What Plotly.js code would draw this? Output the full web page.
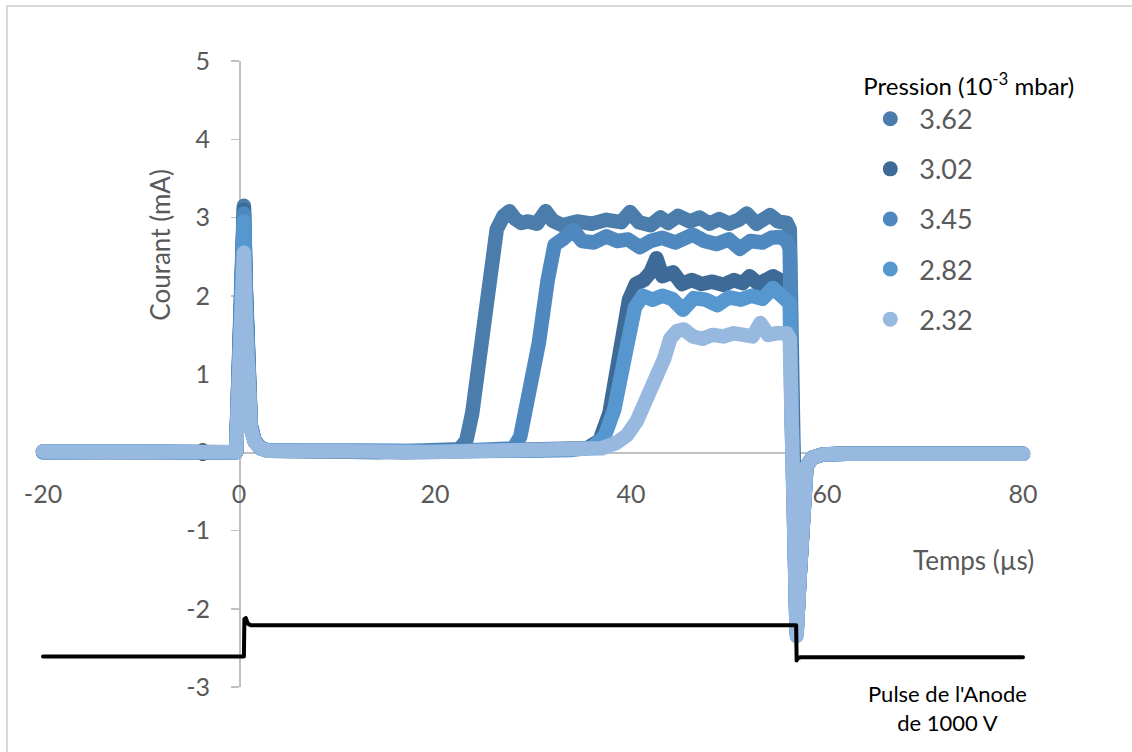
<!DOCTYPE html>
<html>
<head>
<meta charset="utf-8">
<script src="https://cdn.plot.ly/plotly-3.0.1.min.js"></script>
<style>
  html, body { margin: 0; padding: 0; background: #fff; }
  #chart { width: 1132px; height: 752px; }
  .js-line { stroke-linejoin: round; stroke-linecap: round; }
  .cartesianlayer g, .cartesianlayer path { clip-path: none !important; }
</style>
</head>
<body>
<div id="chart"></div>
<script>
// ---- Data (time in µs, current in mA) ----
const seriesNames = ['3.62', '3.02', '3.45', '2.82', '2.32'];
const seriesColors = ['#4A7DAC', '#3D6A96', '#4E88BF', '#5797CF', '#97B8DF'];

const T362 = [-20, -14, -8, -3, -0.3, 0.1, 0.3, 0.5, 0.7, 0.9,
  1.2, 1.6, 2.2, 3, 6, 10, 14, 18, 21, 22.5,
  23.2, 23.8, 24.7, 25.6, 26.3, 27.0, 27.6, 28.2, 28.8, 29.5,
  30.4, 31.3, 32.0, 33.0, 34.5, 36.0, 37.5, 39.0, 39.9, 40.8,
  42.0, 43.0, 43.8, 44.8, 46.0, 47.0, 48.0, 49.0, 50.0, 51.0,
  51.8, 52.8, 53.5, 54.2, 55.0, 55.9, 56.2, 56.4, 56.6, 56.9,
  57.2, 57.5, 57.9, 58.5, 59.5, 61, 65, 70, 75, 80];
const I362 = [0.01, 0.02, 0.0, 0.01, 0.0, 1.6, 3.1, 3.15, 2.1, 0.85,
  0.35, 0.15, 0.06, 0.02, 0.0, 0.01, 0.0, 0.02, 0.02, 0.04,
  0.15, 0.5, 1.35, 2.3, 2.85, 3.02, 3.08, 2.98, 2.93, 2.95,
  2.92, 3.08, 2.96, 2.9, 2.95, 2.92, 2.97, 2.94, 3.07, 2.94,
  2.9, 3.0, 2.93, 3.02, 2.95, 3.0, 2.92, 2.98, 2.92, 2.97,
  3.05, 2.92, 2.96, 3.03, 2.95, 2.93, 2.85, 0.5, -1.8, -2.3,
  -1.6, -0.6, -0.18, -0.07, -0.03, -0.02, -0.02, -0.01, -0.02, -0.02];

const T302 = [-20, -13, -7, -2, -0.3, 0.1, 0.3, 0.5, 0.7, 0.9,
  1.2, 1.6, 2.2, 3, 7, 12, 17, 22, 27, 31,
  34, 35.5, 36.8, 37.8, 38.9, 39.8, 40.5, 41.3, 42.0, 42.6,
  43.2, 44.3, 45.2, 46.2, 47.2, 48.3, 49.4, 50.5, 51.4, 52.1,
  53.0, 53.8, 54.5, 55.2, 55.9, 56.2, 56.4, 56.6, 56.9, 57.2,
  57.5, 57.9, 58.5, 59.5, 62, 66, 71, 76, 80];
const I302 = [0.0, 0.01, 0.02, 0.0, 0.0, 1.5, 3.05, 3.1, 2.05, 0.8,
  0.33, 0.14, 0.05, 0.02, 0.0, 0.01, 0.0, 0.02, 0.01, 0.02,
  0.03, 0.05, 0.15, 0.5, 1.3, 1.95, 2.15, 2.2, 2.3, 2.48,
  2.25, 2.3, 2.15, 2.2, 2.15, 2.18, 2.14, 2.2, 2.16, 2.25,
  2.15, 2.22, 2.25, 2.2, 2.18, 2.1, 0.4, -1.8, -2.3, -1.6,
  -0.6, -0.18, -0.07, -0.03, -0.02, -0.01, -0.02, -0.02, -0.02];

const T345 = [-20, -15, -9, -4, -0.3, 0.1, 0.3, 0.5, 0.7, 0.9,
  1.2, 1.6, 2.2, 3, 6, 11, 16, 21, 25, 27,
  28.0, 28.7, 29.3, 30.6, 31.5, 32.2, 33.0, 34.1, 35.0, 36.2,
  37.5, 38.6, 39.7, 40.9, 42.0, 43.2, 44.5, 46.3, 47.5, 48.7,
  50.0, 51.1, 52.2, 53.4, 54.3, 55.2, 55.9, 56.2, 56.4, 56.6,
  56.9, 57.2, 57.5, 57.9, 58.5, 59.5, 62, 67, 73, 80];
const I345 = [0.01, 0.0, 0.02, 0.0, 0.0, 1.5, 3.0, 3.05, 2.0, 0.8,
  0.33, 0.14, 0.05, 0.02, 0.01, 0.0, 0.02, 0.01, 0.02, 0.03,
  0.05, 0.2, 0.55, 1.4, 2.2, 2.65, 2.72, 2.84, 2.7, 2.68,
  2.76, 2.7, 2.72, 2.62, 2.7, 2.74, 2.68, 2.78, 2.7, 2.66,
  2.72, 2.6, 2.7, 2.68, 2.74, 2.75, 2.7, 2.6, 0.5, -1.8,
  -2.3, -1.6, -0.6, -0.18, -0.07, -0.03, -0.02, -0.01, -0.02, -0.02];

const T282 = [-20, -14, -8, -3, -0.3, 0.1, 0.3, 0.5, 0.7, 0.9,
  1.2, 1.6, 2.2, 3, 7, 12, 18, 24, 30, 34,
  36.0, 37.3, 38.3, 39.5, 40.4, 41.2, 42.2, 43.2, 44.2, 45.3,
  46.4, 47.6, 48.8, 50.0, 51.2, 52.3, 53.4, 54.5, 55.3, 55.9,
  56.2, 56.4, 56.6, 56.9, 57.2, 57.5, 57.9, 58.5, 59.5, 62,
  67, 73, 80];
const I282 = [0.0, 0.02, 0.01, 0.0, 0.0, 1.45, 2.9, 2.95, 1.95, 0.78,
  0.32, 0.14, 0.05, 0.02, 0.0, 0.02, 0.01, 0.0, 0.02, 0.03,
  0.06, 0.2, 0.55, 1.3, 1.85, 2.0, 1.95, 2.0, 1.96, 1.82,
  1.97, 1.95, 1.88, 1.98, 1.95, 2.0, 1.96, 2.1, 1.98, 1.95,
  1.9, 0.4, -1.8, -2.3, -1.6, -0.6, -0.18, -0.07, -0.03, -0.02,
  -0.01, -0.02, -0.02];

const T232 = [-20, -13, -7, -2, -0.3, 0.1, 0.3, 0.5, 0.7, 0.9,
  1.2, 1.6, 2.2, 3, 7, 13, 19, 25, 31, 35,
  37.0, 38.5, 39.6, 40.6, 41.5, 42.3, 42.8, 43.4, 44.0, 44.7,
  45.4, 46.3, 47.3, 48.3, 49.4, 50.5, 51.5, 52.4, 53.2, 54.0,
  54.8, 55.5, 55.9, 56.2, 56.4, 56.6, 56.9, 57.2, 57.5, 57.9,
  58.5, 59.5, 62, 67, 73, 80];
const I232 = [0.01, 0.0, 0.02, 0.0, 0.0, 1.3, 2.5, 2.55, 1.7, 0.7,
  0.3, 0.13, 0.05, 0.02, 0.0, 0.01, 0.0, 0.02, 0.01, 0.02,
  0.05, 0.12, 0.22, 0.4, 0.65, 0.85, 0.95, 1.2, 1.45, 1.55,
  1.57, 1.48, 1.45, 1.5, 1.48, 1.52, 1.5, 1.48, 1.65, 1.5,
  1.52, 1.55, 1.52, 1.45, 0.4, -1.8, -2.35, -1.6, -0.6, -0.18,
  -0.07, -0.03, -0.02, -0.01, -0.02, -0.02];

// Anode pulse (drawn on the same mA scale, as in the reference)
const TPulse = [-20, 0.5, 0.55, 0.7, 0.9, 1.2, 56.85, 56.9, 57.05, 57.3, 80];
const VPulse = [-2.61, -2.61, -2.13, -2.12, -2.19, -2.21, -2.21, -2.66, -2.63, -2.62, -2.62];

const xTickVals = [-20, 0, 20, 40, 60, 80];
const xTickText = ['-20', '0', '20', '40', '60', '80'];
const yTickVals = [-3, -2, -1, 0, 1, 2, 3, 4, 5];
const yTickText = ['-3', '-2', '-1', '0', '1', '2', '3', '4', '5'];

const seriesT = [T362, T302, T345, T282, T232];
const seriesI = [I362, I302, I345, I282, I232];

// ---- Traces ----
const FONT = 'Lato, "Open Sans", "Noto Sans", sans-serif';
const traces = [];
seriesNames.forEach((name, k) => {
  traces.push({
    type: 'scatter', mode: 'lines', name: name,
    x: seriesT[k], y: seriesI[k],
    line: { color: seriesColors[k], width: 14.5 },
    cliponaxis: false,
    showlegend: false, hoverinfo: 'x+y+name'
  });
});
traces.push({
  type: 'scatter', mode: 'lines', name: "Pulse de l'Anode",
  x: TPulse, y: VPulse,
  line: { color: '#000000', width: 4 },
  cliponaxis: false,
  showlegend: false
});
// legend entries (circle symbols, like the reference legend)
seriesNames.forEach((name, k) => {
  traces.push({
    type: 'scatter', mode: 'markers', name: name,
    x: [null], y: [null],
    marker: { color: seriesColors[k], size: 15 },
    legendgroup: 'g' + k, showlegend: true
  });
});

const layout = {
  width: 1132, height: 752,
  margin: { l: 43, r: 109, t: 61, b: 65, pad: 0 },
  paper_bgcolor: '#ffffff', plot_bgcolor: 'rgba(0,0,0,0)',
  font: { family: FONT, color: '#595959', size: 25 },
  showlegend: true,
  xaxis: {
    range: [-20, 80], domain: [0, 1],
    tickvals: xTickVals, ticktext: xTickText, ticks: '',
    anchor: 'free', position: 0.375,
    showline: true, linecolor: '#C0C0C0', linewidth: 1.5,
    showgrid: false, zeroline: false,
    tickfont: { family: FONT, size: 25, color: '#595959' },
    ticklabelstandoff: 19,
    layer: 'below traces'
  },
  yaxis: {
    range: [-3, 5], domain: [0, 1],
    tickvals: yTickVals, ticktext: yTickText,
    ticks: 'outside', ticklen: 8, tickcolor: '#C0C0C0', tickwidth: 1.5,
    anchor: 'free', position: 0.2,
    showline: true, linecolor: '#C0C0C0', linewidth: 1.5,
    showgrid: false, zeroline: false,
    tickfont: { family: FONT, size: 25, color: '#595959' },
    ticklabelstandoff: 16,
    layer: 'below traces'
  },
  legend: {
    x: 0.835, xanchor: 'left', y: 0.996, yanchor: 'top',
    bgcolor: 'rgba(0,0,0,0)',
    font: { family: FONT, size: 27, color: '#595959' },
    title: { text: 'Pression (10<sup>-3</sup> mbar)', side: 'top',
             font: { family: FONT, size: 24, color: '#000000' } },
    itemwidth: 48,
    tracegroupgap: 12
  },
  annotations: [
    { text: 'Courant (mA)', xref: 'paper', yref: 'paper', x: 0.119, y: 0.706,
      xanchor: 'center', yanchor: 'middle', textangle: -90, showarrow: false,
      font: { family: FONT, size: 26, color: '#595959' } },
    { text: 'Temps (µs)', xref: 'paper', yref: 'paper', x: 0.949, y: 0.203,
      xanchor: 'center', yanchor: 'middle', showarrow: false,
      font: { family: FONT, size: 26, color: '#595959' } },
    { text: "Pulse de l'Anode<br>de 1000 V", xref: 'paper', yref: 'paper', x: 0.923, y: -0.034,
      xanchor: 'center', yanchor: 'middle', showarrow: false, align: 'center',
      font: { family: FONT, size: 22, color: '#000000' } }
  ],
  shapes: [
    { type: 'rect', xref: 'paper', yref: 'paper', x0: -0.0367, x1: 1.2, y0: -0.2, y1: 1.088,
      line: { color: '#D9D9D9', width: 2 }, fillcolor: 'rgba(0,0,0,0)', layer: 'below' }
  ]
};

Plotly.newPlot('chart', traces, layout, { displayModeBar: false, staticPlot: true });
</script>
</body>
</html>
